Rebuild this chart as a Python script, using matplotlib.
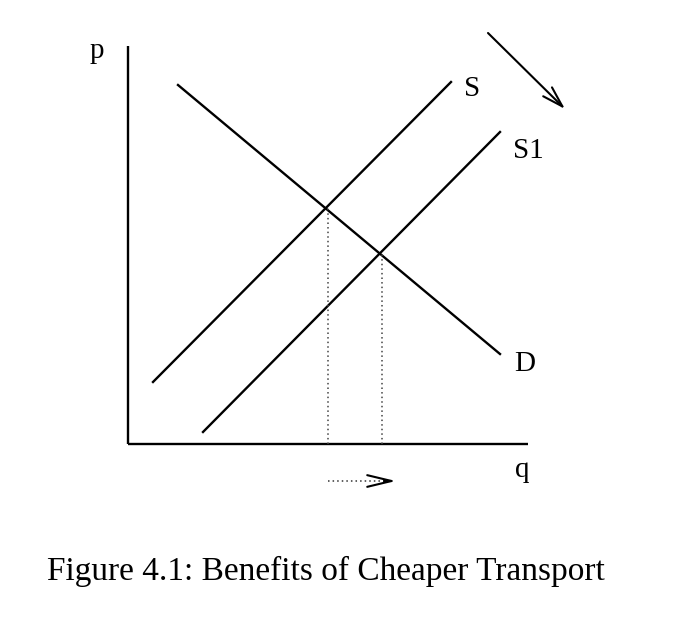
import matplotlib
matplotlib.use("Agg")
import matplotlib.pyplot as plt
import numpy as np

# Curves as (q, p) endpoints in diagram units
demand_q = [1.25, 9.30]
demand_p = [8.975, 2.25]
supply_q = [0.625, 8.075]
supply_p = [1.55, 9.05]
supply1_q = [1.875, 9.30]
supply1_p = [0.30, 7.80]
axis_q_max = 10.0
axis_p_max = 9.95

labels = {"p": "p", "S": "S", "S1": "S1", "D": "D", "q": "q"}
caption = "Figure 4.1: Benefits of Cheaper Transport"

serif = ["Liberation Serif", "DejaVu Serif"]

fig = plt.figure(figsize=(6.82, 6.19), dpi=100)
ax = fig.add_axes([0, 0, 1, 1])
ax.set_xlim(-3.2, 13.85)
ax.set_ylim(-4.375, 11.1)
ax.axis("off")

lw = 1.7
# axes
ax.plot([0, 0], [0, axis_p_max], color="black", lw=lw, solid_capstyle="butt")
ax.plot([0, axis_q_max], [0, 0], color="black", lw=lw, solid_capstyle="butt")

# curves
ax.plot(demand_q, demand_p, color="black", lw=lw)
ax.plot(supply_q, supply_p, color="black", lw=lw)
ax.plot(supply1_q, supply1_p, color="black", lw=lw)

def line_coef(qs, ps):
    m = (ps[1] - ps[0]) / (qs[1] - qs[0])
    return m, ps[0] - m * qs[0]

def intersect(a, b):
    m1, c1 = line_coef(*a)
    m2, c2 = line_coef(*b)
    q = (c2 - c1) / (m1 - m2)
    return q, m1 * q + c1

e0 = intersect((demand_q, demand_p), (supply_q, supply_p))
e1 = intersect((demand_q, demand_p), (supply1_q, supply1_p))
for qe, pe in (e0, e1):
    ax.plot([qe + 0.05, qe + 0.05], [0, pe], color="#444444", lw=1.1,
            linestyle=(0, (1, 2.0)))

# dotted shift arrow below q axis
arrow_p = -0.925
arrow_q0, arrow_q1 = 5.0, 6.7
ax.plot([arrow_q0, arrow_q1 - 0.15], [arrow_p, arrow_p], color="#333333", lw=1.1,
        linestyle=(0, (1, 2.0)))
ax.annotate("", xy=(arrow_q1, arrow_p), xytext=(arrow_q1 - 0.3, arrow_p),
            arrowprops=dict(arrowstyle="->,head_length=1.75,head_width=0.42",
                            color="black", lw=1.5, shrinkA=0, shrinkB=0))

# diagonal arrow top right
ax.annotate("", xy=(10.925, 8.375), xytext=(9.0, 10.275),
            arrowprops=dict(arrowstyle="->,head_length=1.5,head_width=0.45",
                            color="black", lw=1.5, shrinkA=0, shrinkB=0))

fs = 21
ax.text(-0.95, 9.65, labels["p"], family=serif, fontsize=fs, ha="left", va="baseline")
ax.text(8.4, 8.7, labels["S"], family=serif, fontsize=fs, ha="left", va="baseline")
ax.text(9.625, 7.15, labels["S1"], family=serif, fontsize=fs, ha="left", va="baseline")
ax.text(9.65, 1.825, labels["D"], family=serif, fontsize=fs, ha="left", va="baseline")
ax.text(9.675, -0.825, labels["q"], family=serif, fontsize=fs, ha="left", va="baseline")

ax.text(4.94, -3.4, caption, family=serif, fontsize=24, ha="center", va="baseline")

fig.savefig("out.png", dpi=100)
